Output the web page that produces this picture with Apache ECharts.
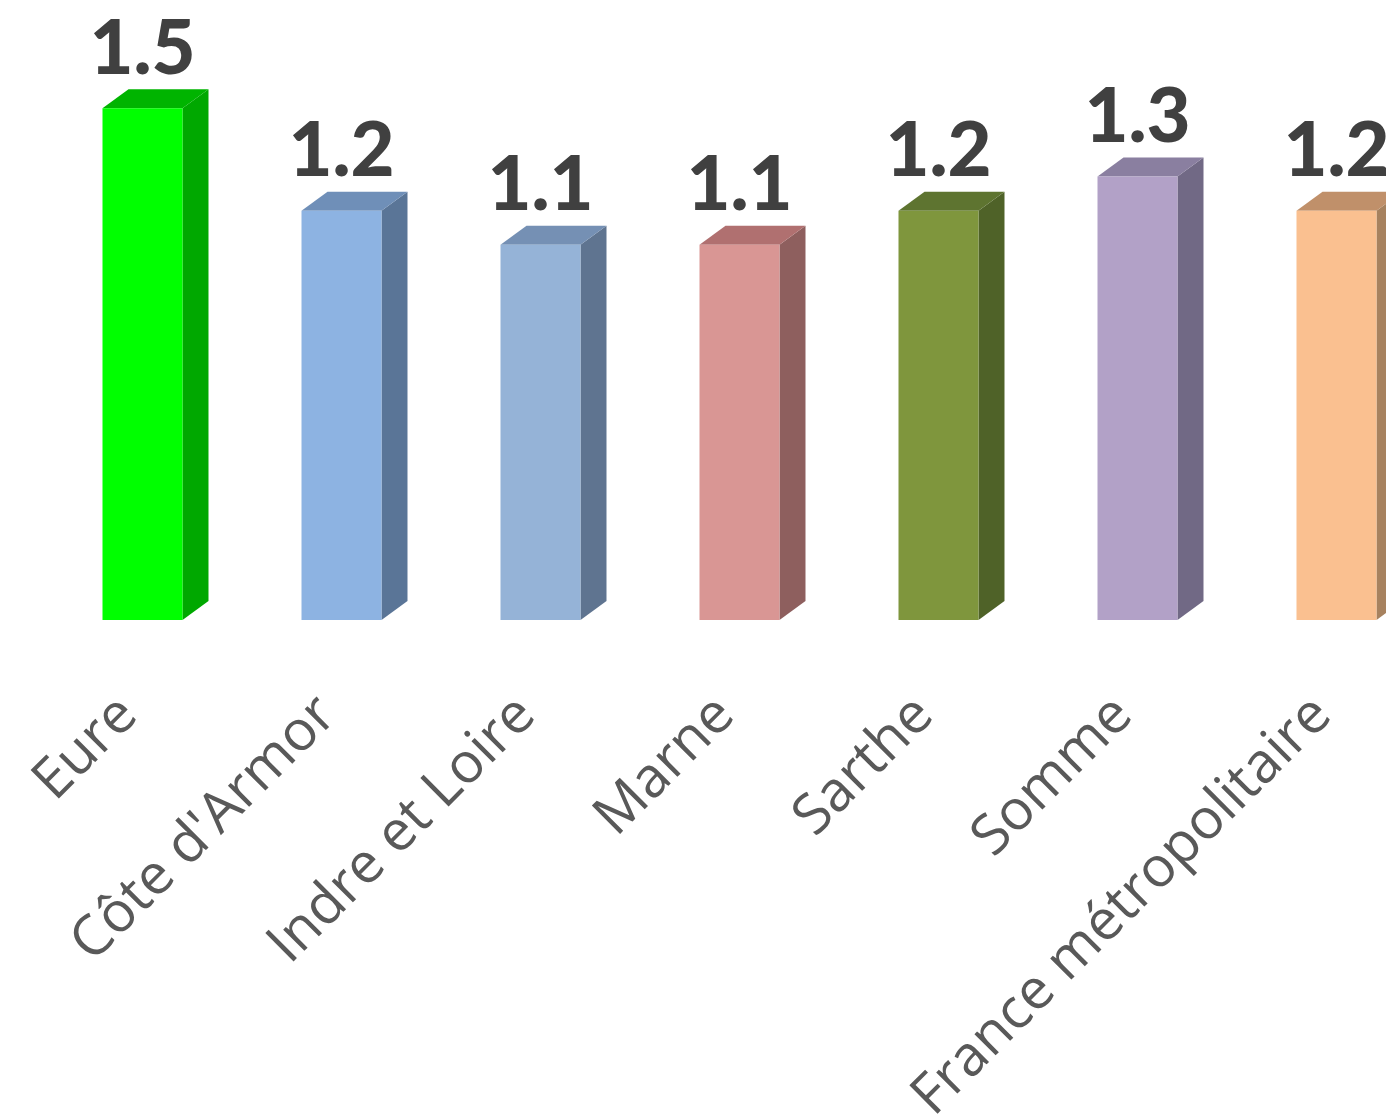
<!DOCTYPE html>
<html>
<head>
<meta charset="utf-8">
<script src="https://cdn.jsdelivr.net/npm/echarts@6/dist/echarts.min.js"></script>
<style>
  html, body { margin: 0; padding: 0; background: #ffffff; }
  #chart { width: 1386px; height: 1119px; }
</style>
</head>
<body>
<div id="chart"></div>
<script>
// ---- data ----
var categories = ['Eure', "Côte d'Armor", 'Indre et Loire', 'Marne', 'Sarthe', 'Somme', 'France métropolitaire'];
var values = [1.5, 1.2, 1.1, 1.1, 1.2, 1.3, 1.2];
var frontColors = ['#00FF00', '#8DB3E2', '#95B3D7', '#D99694', '#7F963D', '#B2A1C7', '#FAC090'];
var sideColors  = ['#00A800', '#5A7597', '#5F7490', '#8E5F5E', '#4F6228', '#716985', '#A7825F'];
var topColors   = ['#00B400', '#6F8FB8', '#7590B4', '#B07070', '#5E7430', '#8A7FA0', '#C0906A'];

var chart = echarts.init(document.getElementById('chart'), null, { renderer: 'canvas' });

function renderItem(params, api) {
  var i = api.value(0);
  var v = api.value(1);
  var top = api.coord([i, v]);
  var base = api.coord([i, 0]);
  var band = api.size([1, 0])[0];
  var w = band * 0.402;
  var dx = 26, dy = 19;
  var x0 = top[0] - w / 2, x1 = top[0] + w / 2;
  var yT = top[1], yB = base[1];
  return {
    type: 'group',
    children: [
      { type: 'polygon', shape: { points: [[x1, yB], [x1 + dx, yB - dy], [x1 + dx, yT - dy], [x1, yT]] },
        style: { fill: sideColors[i] } },
      { type: 'polygon', shape: { points: [[x0, yT], [x0 + dx, yT - dy], [x1 + dx, yT - dy], [x1, yT]] },
        style: { fill: topColors[i] } },
      { type: 'rect', shape: { x: x0, y: yT, width: w, height: yB - yT },
        style: { fill: frontColors[i] } },
      { type: 'text', x: top[0], y: yT - dy - 2,
        style: { text: String(v.toFixed(1)), fill: '#404040', font: '900 76px Lato', align: 'center', verticalAlign: 'bottom' } }
    ]
  };
}

chart.setOption({
  animation: false,
  backgroundColor: '#ffffff',
  grid: { left: 43, right: -50, top: 6, bottom: 499, containLabel: false, outerBoundsMode: 'none' },
  xAxis: {
    type: 'category',
    data: categories,
    axisLine: { show: false },
    axisTick: { show: false },
    axisLabel: {
      rotate: 45, margin: 72, interval: 0, padding: [0, 20, 0, 0],
      color: '#595959', fontFamily: 'Open Sans', fontSize: 56
    }
  },
  yAxis: { type: 'value', min: 0, max: 1.8, show: false, splitLine: { show: false } },
  series: [{
    type: 'custom',
    renderItem: renderItem,
    data: values.map(function (v, i) { return [i, v]; }),
    clip: false
  }]
});
</script>
</body>
</html>
